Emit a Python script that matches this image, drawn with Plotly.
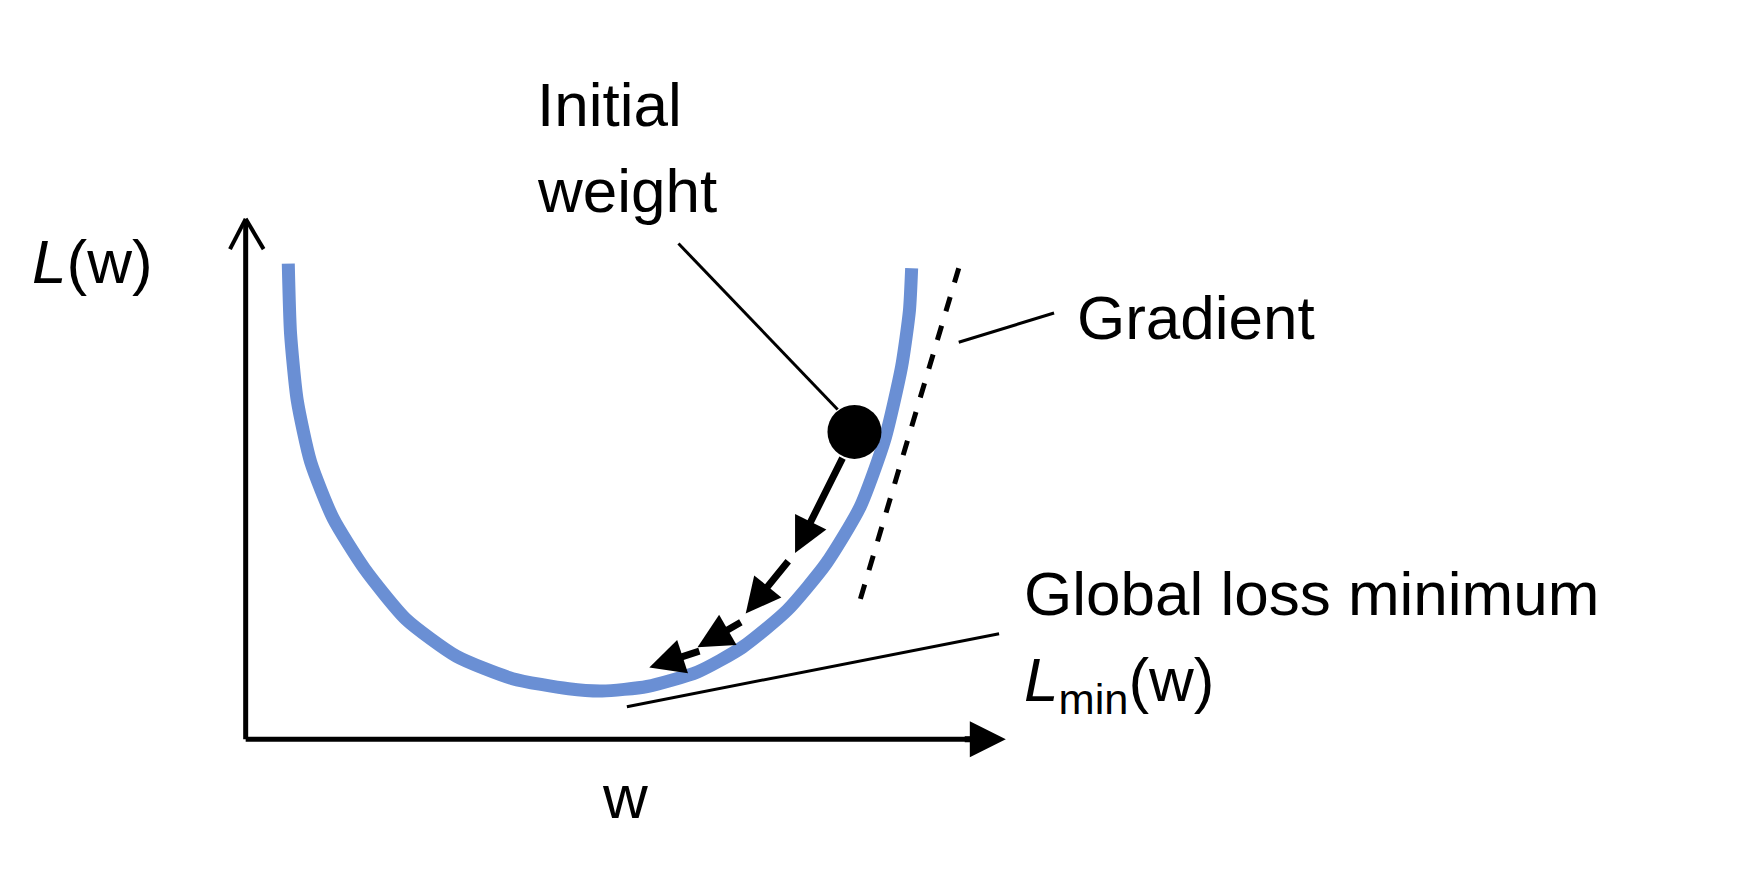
import plotly.graph_objects as go

# diagram coordinates (canvas is 1560 x 782 units, scaled to the page)
curve_x = [250, 252, 258, 270, 290, 318, 355, 400, 450, 500, 530, 570, 615, 655, 695, 730, 760, 782, 797, 804, 806]
curve_y = [228, 290, 350, 405, 455, 500, 545, 578, 598, 607, 609, 605, 592, 570, 537, 495, 445, 385, 320, 270, 232]

step_x0 = [745, 697, 655, 618]
step_y0 = [400, 492, 547, 573]
step_x1 = [702, 658, 615, 572]
step_y1 = [486, 540, 570, 588]

fig = go.Figure()
blue = "#6a8fd4"
fig.add_trace(go.Scatter(x=curve_x, y=curve_y, mode="lines",
                         line=dict(color=blue, width=13, shape="spline", smoothing=0.6),
                         hoverinfo="skip"))

def seg(x0, y0, x1, y1, w=3, dash=None):
    fig.add_shape(type="line", x0=x0, y0=y0, x1=x1, y1=y1,
                  line=dict(color="black", width=w, dash=dash))

# axes
seg(212, 652, 212, 190, w=5)
seg(212, 652, 860, 652, w=5)
seg(212, 188, 198, 215, w=4)
seg(212, 188, 228, 215, w=4)
fig.add_annotation(x=890, y=652, ax=852, ay=652, xref="x", yref="y", axref="x", ayref="y",
                   text="", showarrow=True, arrowhead=2, arrowsize=1.2, arrowwidth=6, arrowcolor="black")

# gradient tangent and leaders
seg(848, 232, 757, 538, w=5, dash="dash")
seg(598, 210, 740, 358, w=3)
seg(848, 298, 933, 272, w=3)
seg(552, 623, 884, 558, w=3)

# descent steps
for x0, y0, x1, y1 in zip(step_x0, step_y0, step_x1, step_y1):
    fig.add_annotation(x=x1, y=y1, ax=x0, ay=y0, xref="x", yref="y", axref="x", ayref="y",
                       text="", showarrow=True, arrowhead=2, arrowsize=1.0, arrowwidth=7, arrowcolor="black")

# initial weight dot
fig.add_trace(go.Scatter(x=[755], y=[378], mode="markers",
                         marker=dict(color="black", size=54), hoverinfo="skip"))

font = dict(family="Liberation Sans, Arial", size=62, color="black")
def txt(x, y, t, anchor="left"):
    fig.add_annotation(x=x, y=y, xref="x", yref="y", text=t, showarrow=False,
                       xanchor=anchor, yanchor="middle", font=font)

txt(470, 86, "Initial")
txt(470, 163, "weight")
txt(952, 276, "Gradient")
txt(904, 522, "Global loss minimum")
txt(904, 603, "<i>L</i><sub>min</sub>(w)")
txt(20, 226, "<i>L</i>(w)")
txt(550, 703, "w", anchor="center")

fig.update_layout(width=1749, height=877, margin=dict(l=0, r=0, t=0, b=0),
                  plot_bgcolor="white", paper_bgcolor="white", showlegend=False,
                  xaxis=dict(range=[0, 1560], visible=False, fixedrange=True),
                  yaxis=dict(range=[782, 0], visible=False, fixedrange=True))
fig.write_html("out.html")
